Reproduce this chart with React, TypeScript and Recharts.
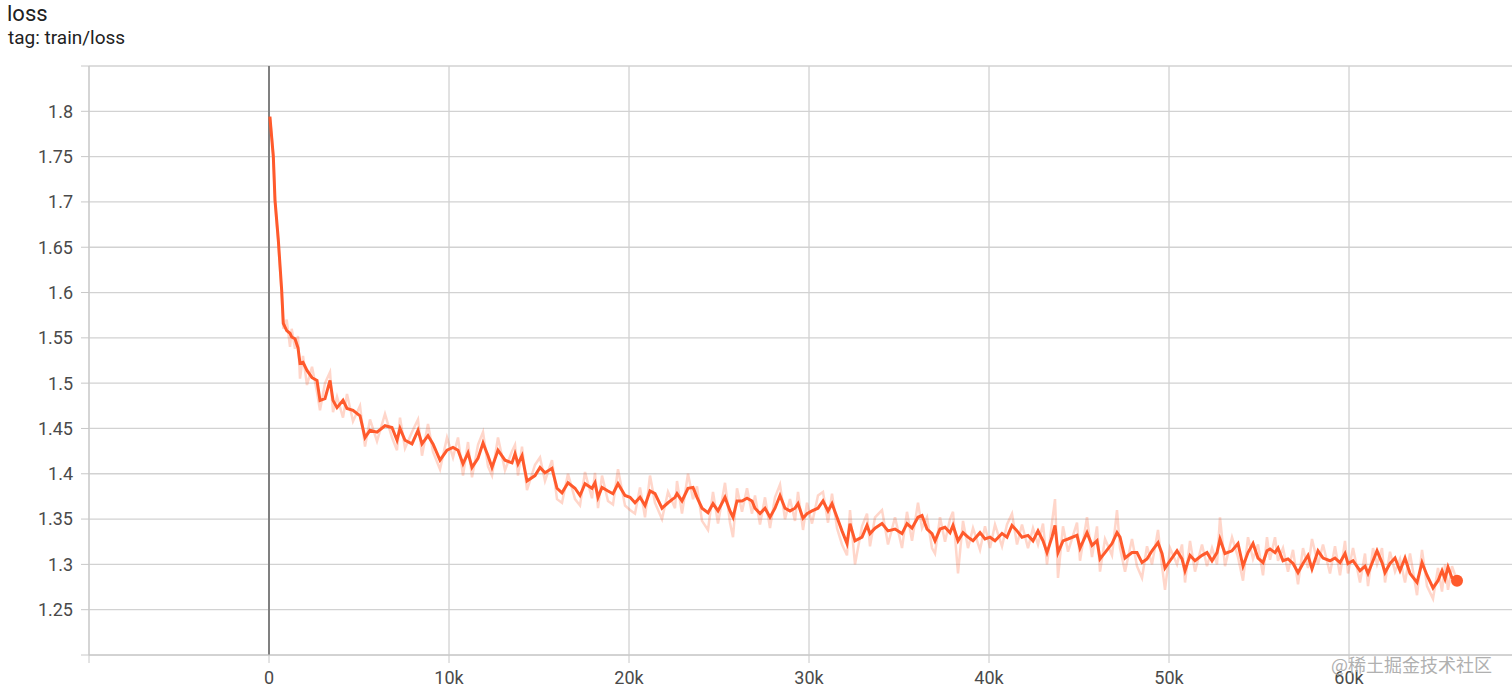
import React from 'react';
import { LineChart, Line, XAxis, YAxis, CartesianGrid, ReferenceLine, ReferenceDot } from 'recharts';

const steps = [
  50, 240, 333, 517, 706, 794, 983, 1167, 1261, 1444,
  1611, 1722, 1889, 2111, 2389, 2667, 2833, 3111, 3389, 3556,
  3778, 4111, 4333, 4667, 5056, 5333, 5611, 6000, 6444, 6833,
  7111, 7278, 7556, 7944, 8278, 8500, 8833, 9111, 9500, 9889,
  10222, 10500, 10778, 11056, 11278, 11611, 11889, 12167, 12389, 12722,
  13111, 13500, 13667, 13833, 14056, 14333, 14778, 15056, 15333, 15722,
  16000, 16278, 16611, 17000, 17278, 17556, 17944, 18111, 18278, 18500,
  18833, 19111, 19389, 19778, 20056, 20333, 20611, 20889, 21167, 21444,
  21833, 22167, 22556, 22667, 22944, 23278, 23556, 23778, 24056, 24389,
  24667, 24944, 25333, 25611, 25778, 26000, 26278, 26556, 26833, 27000,
  27278, 27556, 27833, 28111, 28389, 28667, 28944, 29222, 29389, 29667,
  29889, 30167, 30500, 30778, 31056, 31278, 31556, 31833, 32111, 32278,
  32556, 32944, 33222, 33389, 33667, 34056, 34389, 34778, 35167, 35444,
  35722, 36056, 36278, 36556, 36833, 37000, 37278, 37556, 37833, 38000,
  38278, 38556, 38833, 39111, 39500, 39778, 40056, 40333, 40722, 41000,
  41278, 41556, 41833, 42167, 42444, 42722, 43000, 43222, 43500, 43667,
  43833, 44111, 44389, 44889, 45056, 45444, 45722, 46000, 46167, 46444,
  46833, 47111, 47278, 47556, 47944, 48222, 48500, 48778, 49056, 49389,
  49611, 49778, 50056, 50444, 50722, 50889, 51167, 51444, 51833, 52111,
  52389, 52667, 52833, 53111, 53500, 53833, 54111, 54389, 54667, 54944,
  55222, 55444, 55611, 55889, 56056, 56333, 56611, 56889, 57167, 57444,
  57722, 57944, 58278, 58556, 58944, 59222, 59500, 59778, 59944, 60222,
  60611, 60889, 61056, 61333, 61556, 61833, 62000, 62278, 62556, 62833,
  63111, 63389, 63778, 64056, 64333, 64667, 64944, 65167, 65333, 65500,
  65722, 66000,
];

const smoothLoss = [
  1.794, 1.750, 1.702, 1.658, 1.602, 1.566, 1.558, 1.555, 1.551, 1.549,
  1.539, 1.522, 1.523, 1.514, 1.506, 1.503, 1.481, 1.483, 1.503, 1.481,
  1.473, 1.481, 1.472, 1.470, 1.464, 1.440, 1.448, 1.446, 1.453, 1.451,
  1.437, 1.450, 1.437, 1.433, 1.448, 1.433, 1.442, 1.433, 1.415, 1.426,
  1.429, 1.426, 1.411, 1.423, 1.407, 1.417, 1.434, 1.420, 1.407, 1.426,
  1.415, 1.412, 1.422, 1.411, 1.420, 1.392, 1.398, 1.407, 1.401, 1.406,
  1.384, 1.379, 1.390, 1.384, 1.376, 1.389, 1.384, 1.390, 1.374, 1.385,
  1.381, 1.378, 1.389, 1.376, 1.374, 1.368, 1.374, 1.365, 1.381, 1.378,
  1.362, 1.368, 1.374, 1.378, 1.370, 1.384, 1.385, 1.374, 1.362, 1.357,
  1.367, 1.359, 1.374, 1.359, 1.352, 1.370, 1.370, 1.373, 1.370, 1.362,
  1.356, 1.362, 1.352, 1.362, 1.376, 1.362, 1.359, 1.362, 1.367, 1.351,
  1.356, 1.359, 1.362, 1.370, 1.359, 1.367, 1.352, 1.337, 1.323, 1.345,
  1.326, 1.330, 1.343, 1.334, 1.340, 1.345, 1.337, 1.339, 1.334, 1.345,
  1.340, 1.352, 1.354, 1.339, 1.334, 1.326, 1.339, 1.341, 1.335, 1.343,
  1.326, 1.335, 1.330, 1.326, 1.335, 1.328, 1.330, 1.326, 1.334, 1.330,
  1.343, 1.337, 1.330, 1.332, 1.326, 1.337, 1.326, 1.313, 1.330, 1.343,
  1.313, 1.326, 1.328, 1.332, 1.318, 1.335, 1.321, 1.326, 1.306, 1.313,
  1.323, 1.335, 1.330, 1.307, 1.313, 1.313, 1.302, 1.306, 1.315, 1.324,
  1.312, 1.296, 1.304, 1.315, 1.306, 1.293, 1.310, 1.304, 1.310, 1.313,
  1.304, 1.313, 1.328, 1.312, 1.315, 1.323, 1.298, 1.313, 1.323, 1.307,
  1.302, 1.315, 1.317, 1.313, 1.318, 1.304, 1.306, 1.301, 1.291, 1.301,
  1.310, 1.295, 1.315, 1.307, 1.304, 1.307, 1.302, 1.312, 1.301, 1.304,
  1.293, 1.298, 1.290, 1.304, 1.315, 1.302, 1.291, 1.301, 1.307, 1.293,
  1.307, 1.290, 1.280, 1.302, 1.288, 1.274, 1.282, 1.293, 1.284, 1.297,
  1.285, 1.282,
];

const rawLoss = [
  1.794, 1.752, 1.700, 1.655, 1.598, 1.560, 1.570, 1.540, 1.560, 1.538,
  1.552, 1.505, 1.530, 1.498, 1.518, 1.490, 1.470, 1.500, 1.512, 1.468,
  1.485, 1.462, 1.488, 1.458, 1.475, 1.430, 1.460, 1.436, 1.466, 1.440,
  1.426, 1.462, 1.428, 1.446, 1.460, 1.420, 1.455, 1.424, 1.405, 1.440,
  1.418, 1.440, 1.398, 1.435, 1.396, 1.432, 1.446, 1.408, 1.398, 1.440,
  1.404, 1.425, 1.432, 1.398, 1.430, 1.382, 1.410, 1.418, 1.392, 1.415,
  1.372, 1.368, 1.400, 1.372, 1.365, 1.402, 1.373, 1.401, 1.362, 1.398,
  1.370, 1.366, 1.405, 1.365, 1.360, 1.356, 1.385, 1.352, 1.398, 1.368,
  1.350, 1.380, 1.362, 1.392, 1.356, 1.400, 1.372, 1.386, 1.348, 1.338,
  1.380, 1.345, 1.390, 1.346, 1.330, 1.384, 1.358, 1.384, 1.356, 1.376,
  1.344, 1.374, 1.340, 1.374, 1.388, 1.350, 1.372, 1.348, 1.380, 1.338,
  1.368, 1.345, 1.376, 1.380, 1.346, 1.378, 1.340, 1.322, 1.310, 1.360,
  1.300, 1.342, 1.356, 1.320, 1.352, 1.360, 1.322, 1.352, 1.318, 1.358,
  1.326, 1.368, 1.340, 1.352, 1.318, 1.312, 1.352, 1.325, 1.350, 1.358,
  1.290, 1.348, 1.318, 1.340, 1.316, 1.342, 1.318, 1.344, 1.320, 1.344,
  1.356, 1.322, 1.344, 1.318, 1.340, 1.322, 1.345, 1.300, 1.346, 1.372,
  1.285, 1.342, 1.314, 1.346, 1.304, 1.352, 1.308, 1.342, 1.292, 1.328,
  1.310, 1.360, 1.318, 1.292, 1.328, 1.298, 1.285, 1.320, 1.300, 1.338,
  1.298, 1.272, 1.318, 1.300, 1.322, 1.280, 1.326, 1.292, 1.322, 1.298,
  1.318, 1.300, 1.352, 1.298, 1.330, 1.308, 1.282, 1.330, 1.306, 1.322,
  1.288, 1.330, 1.305, 1.330, 1.304, 1.318, 1.292, 1.316, 1.278, 1.318,
  1.296, 1.328, 1.300, 1.322, 1.290, 1.320, 1.288, 1.326, 1.290, 1.318,
  1.280, 1.312, 1.276, 1.318, 1.300, 1.318, 1.280, 1.314, 1.292, 1.306,
  1.280, 1.312, 1.266, 1.316, 1.276, 1.262, 1.296, 1.270, 1.300, 1.272,
  1.298, 1.282,
];

const xTicks = [-10000, 0, 10000, 20000, 30000, 40000, 50000, 60000];
const yTicks = [1.2, 1.25, 1.3, 1.35, 1.4, 1.45, 1.5, 1.55, 1.6, 1.65, 1.7, 1.75, 1.8, 1.85];
const xDomain = [-10000, 69055];
const yDomain = [1.2, 1.85];

const title = 'loss';
const subtitle = 'tag: train/loss';
const watermark = '@稀土掘金技术社区';

const data = steps.map((s, i) => ({ step: s, smooth: smoothLoss[i], raw: rawLoss[i] }));

const LINE_COLOR = '#ff5a2c';

export default function App() {
  const last = steps.length - 1;
  return (
    <div style={{ position: 'absolute', left: 0, top: 0, width: 1512, height: 695, background: '#fff', fontFamily: 'Roboto, sans-serif', overflow: 'hidden' }}>
      <div style={{ position: 'absolute', left: 7, top: 0, fontSize: 22, color: '#212121', lineHeight: '28px' }}>{title}</div>
      <div style={{ position: 'absolute', left: 8, top: 27, fontSize: 19, color: '#212121', lineHeight: '22px' }}>{subtitle}</div>
      <LineChart width={1512} height={695} data={data} margin={{ top: 66, right: 0, bottom: 0, left: 0 }} style={{ position: 'absolute', left: 0, top: 0 }}>
        <CartesianGrid stroke="#d2d2d2" strokeWidth={1.3} horizontalValues={yTicks} verticalValues={xTicks} />
        <XAxis
          dataKey="step"
          type="number"
          domain={xDomain}
          ticks={xTicks}
          allowDataOverflow
          height={40}
          tickSize={8}
          tickMargin={8}
          axisLine={{ stroke: '#c8c8c8' }}
          tickLine={{ stroke: '#c8c8c8' }}
          tick={{ fill: '#4a4a4a', fontSize: 18 }}
          tickFormatter={(v: number) => (v === -10000 ? '' : v === 0 ? '0' : `${v / 1000}k`)}
          interval={0}
        />
        <YAxis
          type="number"
          domain={yDomain}
          ticks={yTicks}
          allowDataOverflow
          width={89}
          tickSize={8}
          tickMargin={8}
          axisLine={{ stroke: '#c8c8c8' }}
          tickLine={{ stroke: '#c8c8c8' }}
          tick={{ fill: '#4a4a4a', fontSize: 18 }}
          tickFormatter={(v: number) => (v === 1.2 || v === 1.85 ? '' : String(v))}
          interval={0}
        />
        <ReferenceLine x={0} stroke="#808080" strokeWidth={2} />
        <Line type="linear" dataKey="raw" stroke={LINE_COLOR} strokeOpacity={0.25} strokeWidth={2.5} dot={false} activeDot={false} isAnimationActive={false} />
        <Line type="linear" dataKey="smooth" stroke={LINE_COLOR} strokeWidth={3} dot={false} activeDot={false} isAnimationActive={false} />
        <ReferenceDot x={steps[last]} y={smoothLoss[last]} r={6} fill={LINE_COLOR} stroke="none" />
      </LineChart>
      <div style={{ position: 'absolute', left: 1331, top: 653, fontSize: 18, color: '#b0b0b0', fontFamily: '"Noto Sans CJK SC", sans-serif', lineHeight: '22px' }}>{watermark}</div>
    </div>
  );
}
